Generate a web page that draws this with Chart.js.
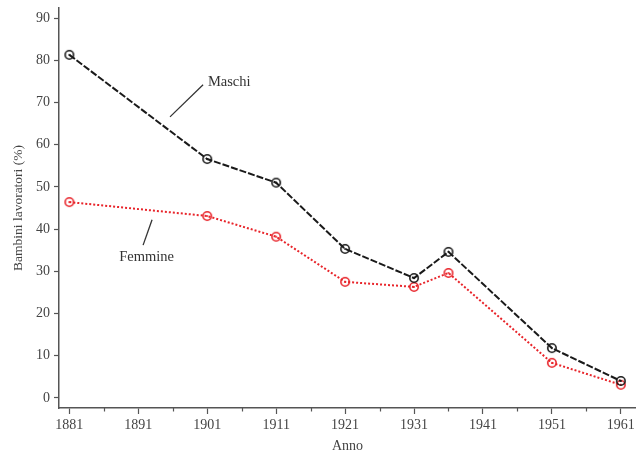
<!DOCTYPE html>
<html>
<head>
<meta charset="utf-8">
<script src="https://cdn.jsdelivr.net/npm/chart.js@4/dist/chart.umd.min.js"></script>
<style>
  html, body { margin: 0; padding: 0; background: #fff; }
  #wrap { width: 636px; height: 455px; }
</style>
</head>
<body>
<div id="wrap"><canvas id="chart"></canvas></div>
<script>
const years = [1881, 1901, 1911, 1921, 1931, 1936, 1951, 1961];
const maschi = [81.3, 56.6, 51.0, 35.3, 28.4, 34.6, 11.8, 4.0];
const femmine = [46.4, 43.1, 38.2, 27.5, 26.3, 29.6, 8.3, 3.1];
const xTickLabels = [1881, 1891, 1901, 1911, 1921, 1931, 1941, 1951, 1961];
const yTickLabels = [0, 10, 20, 30, 40, 50, 60, 70, 80, 90];

const FONT = "'Liberation Serif', 'DejaVu Serif', serif";
const RED = '#e8242a';

function ringDot(color) {
  const c = document.createElement('canvas');
  c.width = 12; c.height = 12;
  const g = c.getContext('2d');
  g.strokeStyle = color;
  g.lineWidth = 1.6;
  g.beginPath(); g.arc(6, 6, 4.2, 0, Math.PI * 2); g.stroke();
  g.fillStyle = color;
  g.beginPath(); g.arc(6, 6, 1, 0, Math.PI * 2); g.fill();
  return c;
}

// etichette delle serie con linea di richiamo
const labels = [
  { text: 'Maschi', x: 1901.1, y: 74.9, align: 'left', line: [1895.6, 66.6, 1900.4, 74.2] },
  { text: 'Femmine', x: 1892.2, y: 33.4, align: 'center', line: [1891.7, 36.2, 1893.0, 42.2] }
];

const seriesLabels = {
  id: 'seriesLabels',
  afterDatasetsDraw(chart) {
    const { ctx, scales: { x, y } } = chart;
    ctx.save();
    ctx.strokeStyle = '#333';
    ctx.lineWidth = 1.3;
    ctx.fillStyle = '#333';
    ctx.font = '14.5px ' + FONT;
    ctx.textBaseline = 'middle';
    labels.forEach(l => {
      ctx.beginPath();
      ctx.moveTo(x.getPixelForValue(l.line[0]), y.getPixelForValue(l.line[1]));
      ctx.lineTo(x.getPixelForValue(l.line[2]), y.getPixelForValue(l.line[3]));
      ctx.stroke();
      ctx.textAlign = l.align;
      ctx.fillText(l.text, x.getPixelForValue(l.x), y.getPixelForValue(l.y));
    });
    // tacche minori sull'asse x
    ctx.strokeStyle = '#555';
    ctx.lineWidth = 1.2;
    for (let i = 0; i < xTickLabels.length - 1; i++) {
      const px = Math.round(x.getPixelForValue(xTickLabels[i] + 5)) + 0.5;
      ctx.beginPath();
      ctx.moveTo(px, x.top);
      ctx.lineTo(px, x.top + 3.5);
      ctx.stroke();
    }
    ctx.restore();
  }
};

new Chart(document.getElementById('chart'), {
  type: 'line',
  data: {
    datasets: [
      {
        label: 'Maschi',
        data: years.map((yr, i) => ({ x: yr, y: maschi[i] })),
        borderColor: '#1a1a1a',
        borderWidth: 2,
        borderDash: [7, 2],
        pointStyle: ringDot('#1a1a1a'),
        tension: 0
      },
      {
        label: 'Femmine',
        data: years.map((yr, i) => ({ x: yr, y: femmine[i] })),
        borderColor: RED,
        borderWidth: 2,
        borderDash: [2, 2],
        pointStyle: ringDot(RED),
        tension: 0
      }
    ]
  },
  options: {
    responsive: true,
    maintainAspectRatio: false,
    animation: false,
    layout: { autoPadding: false, padding: { top: 8, right: 0, left: 10, bottom: 0 } },
    plugins: {
      legend: { display: false },
      tooltip: { enabled: false }
    },
    scales: {
      x: {
        type: 'linear',
        min: 1879.5,
        max: 1963.2,
        afterBuildTicks: s => { s.ticks = xTickLabels.map(v => ({ value: v })); },
        afterFit: s => { s.height = 47; s.paddingLeft = 0; s.paddingRight = 0; },
        border: { color: '#555', width: 1.5 },
        grid: { drawOnChartArea: false, tickLength: 6, color: '#555', tickWidth: 1.2 },
        ticks: { color: '#444', font: { family: FONT, size: 14 }, padding: 3, maxRotation: 0, callback: v => String(v) },
        title: { display: true, text: 'Anno', color: '#444', font: { family: FONT, size: 14 }, padding: { top: 1, bottom: 0 } }
      },
      y: {
        min: -2.4,
        max: 92.4,
        afterBuildTicks: s => { s.ticks = yTickLabels.map(v => ({ value: v })); },
        afterFit: s => { s.width = 49; s.paddingTop = 0; s.paddingBottom = 0; },
        border: { color: '#555', width: 1.5 },
        grid: { drawOnChartArea: false, tickLength: 5, color: '#555', tickWidth: 1.2 },
        ticks: { color: '#444', font: { family: FONT, size: 14 }, padding: 4, callback: v => String(v) },
        title: { display: true, text: 'Bambini lavoratori (%)', color: '#444', font: { family: FONT, size: 13.5 }, padding: { top: 0, bottom: 2 } }
      }
    },
    elements: { point: { radius: 5 } }
  },
  plugins: [seriesLabels]
});
</script>
</body>
</html>
